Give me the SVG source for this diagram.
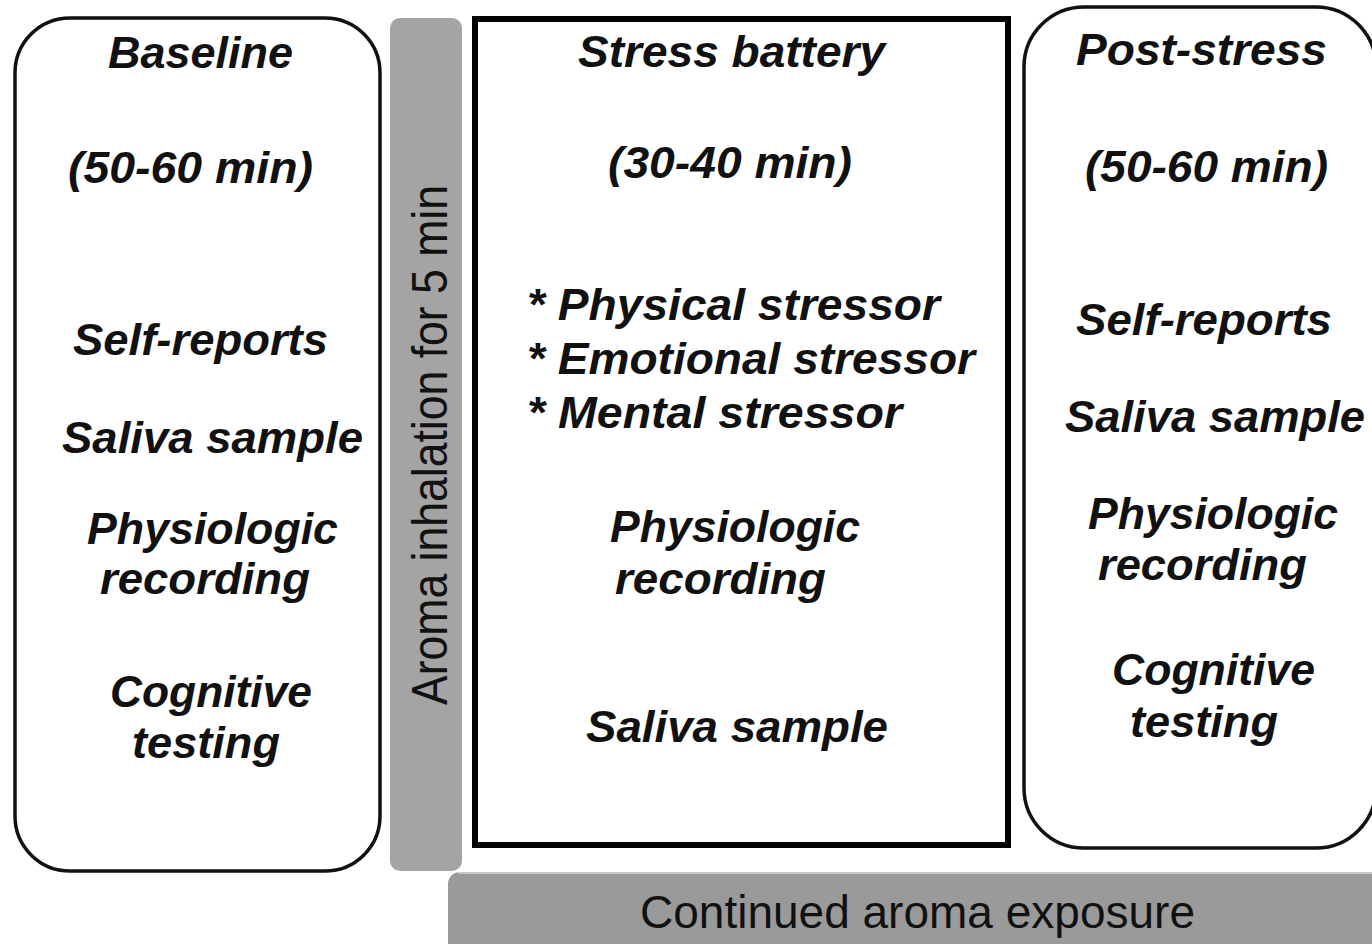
<svg xmlns="http://www.w3.org/2000/svg" width="1372" height="944" viewBox="0 0 1372 944">
  <style>
    .lbl { font-family: "Liberation Sans", Arial, sans-serif; font-weight: bold; font-style: italic; font-size: 45px; fill: #111; }
    .plain { font-family: "Liberation Sans", Arial, sans-serif; font-weight: normal; fill: #111; }
    .box { fill: #ffffff; stroke: #111; stroke-width: 3.5; }
    .bar { fill: #a4a4a4; }
  </style>
  <rect x="0" y="0" width="1372" height="944" fill="#ffffff"/>

  <g id="baseline">
    <rect class="box" x="15" y="18" width="365" height="853" rx="55" ry="55"/>
    <text class="lbl" x="108" y="68" textLength="185" lengthAdjust="spacingAndGlyphs">Baseline</text>
    <text class="lbl" x="68" y="183" textLength="245" lengthAdjust="spacingAndGlyphs">(50-60 min)</text>
    <text class="lbl" x="73" y="355" textLength="255" lengthAdjust="spacingAndGlyphs">Self-reports</text>
    <text class="lbl" x="62" y="453" textLength="301" lengthAdjust="spacingAndGlyphs">Saliva sample</text>
    <text class="lbl" x="87" y="544" textLength="251" lengthAdjust="spacingAndGlyphs">Physiologic</text>
    <text class="lbl" x="100" y="594" textLength="210" lengthAdjust="spacingAndGlyphs">recording</text>
    <text class="lbl" x="110" y="707" textLength="202" lengthAdjust="spacingAndGlyphs">Cognitive</text>
    <text class="lbl" x="132" y="758" textLength="148" lengthAdjust="spacingAndGlyphs">testing</text>
  </g>

  <g id="inhalation">
    <rect class="bar" x="390" y="18" width="72" height="853" rx="10" ry="10"/>
    <text class="plain" font-size="50" transform="translate(447,705) rotate(-90)" x="0" y="0" textLength="520" lengthAdjust="spacingAndGlyphs">Aroma inhalation for 5 min</text>
  </g>

  <g id="stress">
    <rect x="475" y="19" width="533" height="826" fill="#ffffff" stroke="#000" stroke-width="6"/>
    <text class="lbl" x="578" y="67" textLength="307" lengthAdjust="spacingAndGlyphs">Stress battery</text>
    <text class="lbl" x="608" y="178" textLength="244" lengthAdjust="spacingAndGlyphs">(30-40 min)</text>
    <text class="lbl" x="527" y="320" textLength="413" lengthAdjust="spacingAndGlyphs">* Physical stressor</text>
    <text class="lbl" x="527" y="374" textLength="448" lengthAdjust="spacingAndGlyphs">* Emotional stressor</text>
    <text class="lbl" x="527" y="428" textLength="375" lengthAdjust="spacingAndGlyphs">* Mental stressor</text>
    <text class="lbl" x="610" y="542" textLength="250" lengthAdjust="spacingAndGlyphs">Physiologic</text>
    <text class="lbl" x="615" y="594" textLength="211" lengthAdjust="spacingAndGlyphs">recording</text>
    <text class="lbl" x="586" y="742" textLength="302" lengthAdjust="spacingAndGlyphs">Saliva sample</text>
  </g>

  <g id="post-stress">
    <rect class="box" x="1024" y="7" width="352" height="841" rx="60" ry="60"/>
    <text class="lbl" x="1076" y="65" textLength="251" lengthAdjust="spacingAndGlyphs">Post-stress</text>
    <text class="lbl" x="1085" y="182" textLength="243" lengthAdjust="spacingAndGlyphs">(50-60 min)</text>
    <text class="lbl" x="1076" y="335" textLength="256" lengthAdjust="spacingAndGlyphs">Self-reports</text>
    <text class="lbl" x="1065" y="432" textLength="300" lengthAdjust="spacingAndGlyphs">Saliva sample</text>
    <text class="lbl" x="1088" y="529" textLength="250" lengthAdjust="spacingAndGlyphs">Physiologic</text>
    <text class="lbl" x="1098" y="580" textLength="209" lengthAdjust="spacingAndGlyphs">recording</text>
    <text class="lbl" x="1112" y="685" textLength="203" lengthAdjust="spacingAndGlyphs">Cognitive</text>
    <text class="lbl" x="1130" y="737" textLength="148" lengthAdjust="spacingAndGlyphs">testing</text>
  </g>

  <g id="continued">
    <rect x="448" y="872" width="940" height="90" rx="12" ry="12" fill="#9a9a9a"/>
    <line x1="458" y1="873" x2="1372" y2="873" stroke="#c8c8c8" stroke-width="2"/>
    <text class="plain" font-size="46" x="640" y="928" textLength="555" lengthAdjust="spacingAndGlyphs">Continued aroma exposure</text>
  </g>

  <g id="connectors"></g>
</svg>
